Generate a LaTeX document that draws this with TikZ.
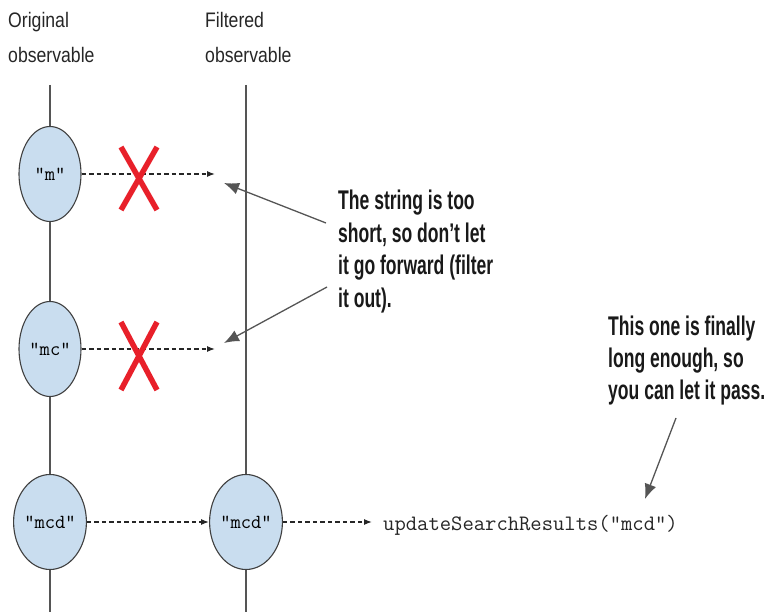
\documentclass[tikz,border=0pt]{standalone}
\usepackage{fontspec}
\usetikzlibrary{shapes.geometric,arrows.meta}
\newfontfamily\headfont[FakeStretch=0.84]{Liberation Sans}
\newfontfamily\notefont[FakeStretch=0.65]{Liberation Sans}
\definecolor{bubble}{HTML}{C9DDEF}
\definecolor{wire}{HTML}{555555}
\definecolor{cross}{HTML}{E8202A}
\tikzset{
  % multi-line nodes are placed by the baseline of their last line
  heading/.style={anchor=base west, align=left, inner sep=0pt,
    font=\headfont\fontsize{21}{35}\selectfont, text=black!85},
  note/.style={anchor=base west, align=left, inner sep=0pt,
    font=\notefont\bfseries\fontsize{27}{32.5}\selectfont, text=black!90},
  value/.style={ellipse, draw=black!75, line width=1.1pt, fill=bubble,
    minimum width=62pt, minimum height=95pt, inner sep=0pt,
    font=\ttfamily\fontsize{20}{20}\selectfont},
  timeline/.style={wire, line width=1.1pt},
  flow/.style={black!85, line width=1.2pt, dash pattern=on 4.5pt off 3pt,
    -{Latex[length=8pt,width=6pt]}},
  pointer/.style={wire, line width=1.3pt, -{Latex[length=15pt,width=12pt]}},
  reject/.style={cross, line width=5.5pt},
}
\begin{document}
\begin{tikzpicture}[x=1pt,y=-1pt]
\useasboundingbox (0,0) rectangle (769,612);

% stream headings
\node[heading] (orig) at (8,63) {Original\\observable};
\node[heading] (filt) at (205,63) {Filtered\\observable};

% time lines
\coordinate (ltop) at (50,85);
\coordinate (lbot) at (50,612);
\coordinate (rtop) at (246,85);
\coordinate (rbot) at (246,612);
\draw[timeline] (ltop) -- (lbot);
\draw[timeline] (rtop) -- (rbot);

% emitted values
\node[value] (m)    at (50,174) {"m"};
\node[value] (mc)   at (50,349) {"mc"};
\node[value] (mcd)  at (50,522) {"mcd"};
\node[value] (mcdF) at (246,522) {"mcd"};

% dropped values
\coordinate (mEnd)  at (215,174);
\coordinate (mcEnd) at (215,349);
\draw[flow] (m.east) -- (mEnd);
\draw[flow] (mc.east) -- (mcEnd);

\coordinate (x1a) at (121,147); \coordinate (x1b) at (157,210);
\coordinate (x1c) at (157,147); \coordinate (x1d) at (121,210);
\draw[reject] (x1a) -- (x1b) (x1c) -- (x1d);
\coordinate (x2a) at (121,322); \coordinate (x2b) at (157,390);
\coordinate (x2c) at (157,322); \coordinate (x2d) at (121,390);
\draw[reject] (x2a) -- (x2b) (x2c) -- (x2d);

% passed value
\node[anchor=base west, inner sep=0pt, font=\ttfamily\fontsize{22}{22}\selectfont, text=black!85]
  (call) at (383,530) {updateSearchResults("mcd")};
\coordinate (callIn) at (372,522);
\draw[flow] (mcd.east) -- (mcdF.west);
\draw[flow] (mcdF.east) -- (callIn);

% annotations
\node[note] (short) at (338,307.5) {The string is too\\short, so don’t let\\it go forward (filter\\it out).};
\node[note] (pass) at (608,400) {This one is finally\\long enough, so\\you can let it pass.};

\coordinate (s1) at (326,223);
\coordinate (s2) at (327,287);
\coordinate (t1) at (224,183);
\coordinate (t2) at (224,343);
\draw[pointer] (s1) -- (t1);
\draw[pointer] (s2) -- (t2);

\coordinate (p1) at (676,418);
\coordinate (p2) at (645,499);
\draw[pointer] (p1) -- (p2);
\end{tikzpicture}
\end{document}
